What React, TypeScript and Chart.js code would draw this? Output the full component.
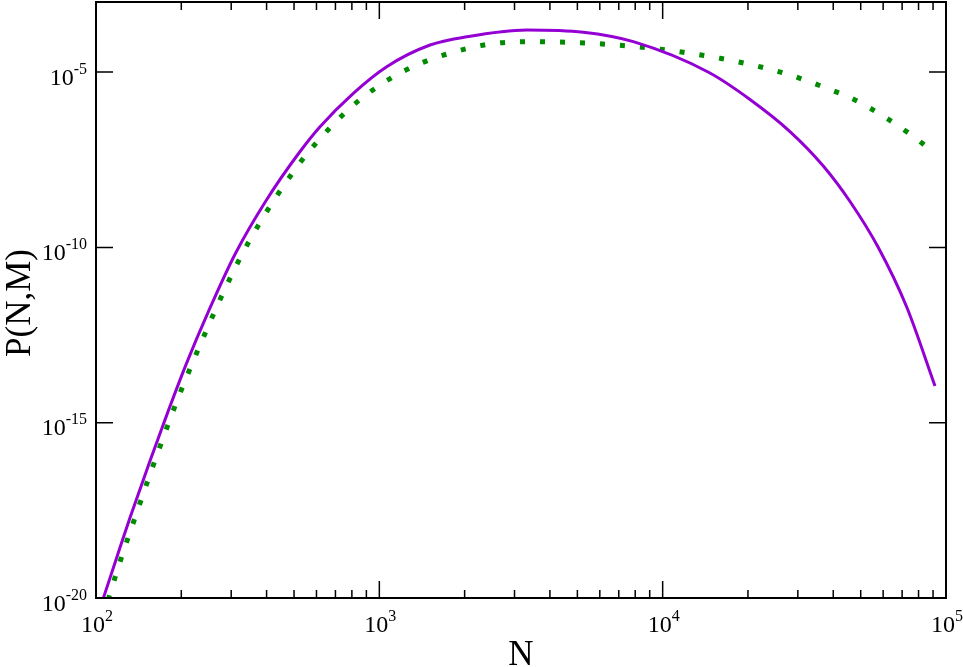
import React, { useEffect, useRef } from "react";
import { Chart, registerables } from "chart.js";

Chart.register(...registerables);

// Solid violet curve
const nPurple = [105.5, 118.6, 131.8, 155.5, 173.8, 207.8, 251.9, 310.2, 398.1, 521.9, 617.5, 809.4, 1062, 1510, 2034, 3313, 5248, 7877, 14516, 20330, 28140, 36890, 45840, 57690, 72660, 91460];
const pPurple = [8.5e-21, 1.51e-19, 1.95e-18, 8.7e-17, 1.02e-15, 4.52e-14, 1.79e-12, 6.62e-11, 2.15e-9, 5.09e-8, 2.77e-7, 2.49e-6, 1.43e-5, 5.94e-5, 1.02e-4, 1.59e-4, 1.37e-4, 7.38e-5, 9.9e-6, 1.66e-6, 2.02e-7, 2.1e-8, 2.04e-9, 9.95e-11, 2.0e-12, 1.11e-14];

// Dotted green curve
const nGreen = [110.3, 123.2, 137.3, 152.9, 171, 192, 217.7, 247.9, 283.7, 328.5, 387.6, 464.6, 566, 794.3, 1027.8, 1355, 1800, 2424, 3313, 4585, 6346, 8733, 11825, 15940, 21300, 28140, 36710, 47730, 60570, 75690, 85700];
const pGreen = [8.8e-21, 1.51e-19, 1.95e-18, 2.43e-17, 3.01e-16, 3.72e-15, 4.52e-14, 5.27e-13, 5.98e-12, 6.62e-11, 6.9e-10, 6.56e-9, 5.62e-8, 9.93e-7, 4.8e-6, 1.6e-5, 3.58e-5, 6.22e-5, 7.38e-5, 7.1e-5, 6.22e-5, 4.98e-5, 3.67e-5, 2.48e-5, 1.52e-5, 8.28e-6, 3.84e-6, 1.6e-6, 5.34e-7, 1.58e-7, 7.31e-8];

// Axes
const xMin = 1e2;
const xMax = 1e5;
const yMin = 1e-20;
const yMax = 1e-3;
const xTickExps = [2, 3, 4, 5];
const xMinorMults = [2, 3, 4, 5, 6, 7, 8, 9];
const yTickExps = [-20, -15, -10, -5];
const xTitle = "N";
const yTitle = "P(N,M)";

const FONT = '"Liberation Serif", "DejaVu Serif", serif';

function drawPower(ctx: CanvasRenderingContext2D, exp: number, x: number, baseY: number, align: "center" | "right") {
  const base = "10";
  const sup = String(exp);
  ctx.font = `24px ${FONT}`;
  const wb = ctx.measureText(base).width;
  ctx.font = `16px ${FONT}`;
  const ws = ctx.measureText(sup).width;
  const total = wb + ws;
  const start = align === "center" ? x - total / 2 : x - total;
  ctx.textAlign = "left";
  ctx.textBaseline = "alphabetic";
  ctx.font = `24px ${FONT}`;
  ctx.fillText(base, start, baseY);
  ctx.font = `16px ${FONT}`;
  ctx.fillText(sup, start + wb, baseY - 11);
}

const framePlugin = {
  id: "frame",
  afterDraw(chart: any) {
    const { ctx, chartArea: a, scales } = chart;
    const xs = scales.x;
    const ys = scales.y;
    ctx.save();
    ctx.strokeStyle = "#000";
    ctx.fillStyle = "#000";

    // ticks (inward, mirrored on all sides)
    ctx.lineWidth = 1.5;
    ctx.beginPath();
    for (const e of xTickExps) {
      const px = xs.getPixelForValue(Math.pow(10, e));
      ctx.moveTo(px, a.bottom);
      ctx.lineTo(px, a.bottom - 17);
      ctx.moveTo(px, a.top);
      ctx.lineTo(px, a.top + 17);
      if (e < 5) {
        for (const m of xMinorMults) {
          const pm = xs.getPixelForValue(m * Math.pow(10, e));
          ctx.moveTo(pm, a.bottom);
          ctx.lineTo(pm, a.bottom - 8);
          ctx.moveTo(pm, a.top);
          ctx.lineTo(pm, a.top + 8);
        }
      }
    }
    for (const e of yTickExps) {
      const py = ys.getPixelForValue(Math.pow(10, e));
      ctx.moveTo(a.left, py);
      ctx.lineTo(a.left + 17, py);
      ctx.moveTo(a.right, py);
      ctx.lineTo(a.right - 17, py);
    }
    ctx.stroke();

    // frame
    ctx.lineWidth = 2;
    ctx.strokeRect(a.left, a.top, a.right - a.left, a.bottom - a.top);

    // tick labels
    for (const e of xTickExps) {
      const px = xs.getPixelForValue(Math.pow(10, e));
      drawPower(ctx, e, px + 1, a.bottom + 34, "center");
    }
    for (const e of yTickExps) {
      const py = ys.getPixelForValue(Math.pow(10, e));
      drawPower(ctx, e, a.left - 9, py + 12.5, "right");
    }

    // axis titles
    ctx.font = `35px ${FONT}`;
    ctx.textAlign = "center";
    ctx.textBaseline = "alphabetic";
    ctx.fillText(xTitle, (a.left + a.right) / 2, 665);
    ctx.save();
    ctx.translate(30, (a.top + a.bottom) / 2 + 3);
    ctx.rotate(-Math.PI / 2);
    ctx.fillText(yTitle, 0, 0);
    ctx.restore();

    ctx.restore();
  },
};

export default function App() {
  const ref = useRef<HTMLCanvasElement>(null);
  useEffect(() => {
    const chart = new Chart(ref.current!, {
      type: "line",
      data: {
        datasets: [
          {
            data: nPurple.map((n, i) => ({ x: n, y: pPurple[i] })),
            borderColor: "#9400d3",
            borderWidth: 3,
            pointRadius: 0,
            fill: false,
            cubicInterpolationMode: "monotone",
            clip: 0,
          },
          {
            data: nGreen.map((n, i) => ({ x: n, y: pGreen[i] })),
            borderColor: "#008b00",
            borderWidth: 5,
            borderDash: [5, 15],
            borderCapStyle: "butt",
            pointRadius: 0,
            fill: false,
            cubicInterpolationMode: "monotone",
            clip: 0,
          },
        ],
      } as any,
      options: {
        responsive: false,
        animation: false,
        devicePixelRatio: 1,
        events: [],
        layout: { padding: { left: 96, top: 2, right: 17, bottom: 69 } },
        plugins: { legend: { display: false }, tooltip: { enabled: false } },
        scales: {
          x: { type: "logarithmic", min: xMin, max: xMax, display: false },
          y: { type: "logarithmic", min: yMin, max: yMax, display: false },
        },
      } as any,
      plugins: [framePlugin],
    });
    return () => chart.destroy();
  }, []);
  return (
    <canvas
      ref={ref}
      width={963}
      height={667}
      style={{ position: "absolute", left: 0, top: 0, display: "block", background: "#fff" }}
    />
  );
}
